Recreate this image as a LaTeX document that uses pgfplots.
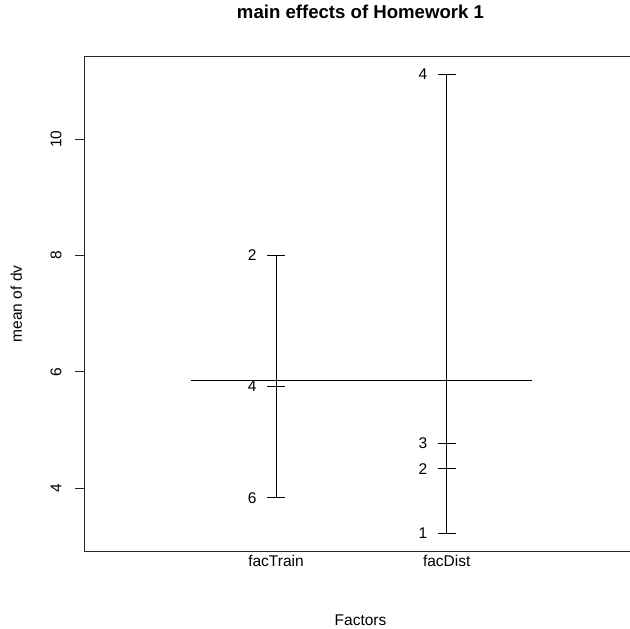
\documentclass[border=0pt]{standalone}
\usepackage{fontspec}
\setmainfont{Liberation Sans}
\usepackage{pgfplots}
\usepackage{pgfplotstable}
\pgfplotsset{compat=1.18}
\pgfplotstableread{
x y lab
1 8.000 2
1 5.746 4
1 3.837 6
}\facTrain
\pgfplotstableread{
x y lab
2 3.224 1
2 4.335 2
2 4.772 3
2 11.118 4
}\facDist
\begin{document}
\begin{tikzpicture}[font=\fontsize{15.5bp}{18bp}\selectfont]
\begin{axis}[
  scale only axis,
  width=553bp, height=495.7bp,
  xmin=-0.1248, xmax=3.115,
  ymin=2.908, ymax=11.432,
  axis line style={line width=0.8bp, black!85},
  tick align=outside,
  major tick length=8.5bp,
  ytick={4,6,8,10},
  ytick pos=left,
  ytick style={line width=0.8bp, black!85},
  yticklabel style={rotate=90, anchor=south, inner sep=0pt},
  yticklabel shift=13.8bp,
  xtick={1,2},
  xticklabels={facTrain,facDist},
  xtick style={draw=none},
  xticklabel style={anchor=base, inner sep=0pt},
  xticklabel shift=6.5bp,
  /pgf/number format/assume math mode=true,
  title={main effects of Homework 1},
  title style={at={(axis description cs:0.5,1.064)}, anchor=base, inner sep=0pt, font=\bfseries\fontsize{18.6bp}{22bp}\selectfont},
  xlabel={Factors},
  xlabel style={at={(axis description cs:0.5,-0.1493)}, anchor=base, inner sep=0pt},
  ylabel={mean of dv},
  ylabel style={at={(axis description cs:-0.1117,0.5)}, rotate=0, anchor=south, inner sep=0pt},
]
\addplot[black, line width=0.8bp] coordinates {(0.5,5.861) (2.5,5.861)};
\addplot[black, line width=0.8bp] coordinates {(1,3.837) (1,8.000)};
\addplot[black, line width=0.8bp] coordinates {(2,3.224) (2,11.118)};
\addplot[black, line width=0.8bp, only marks, mark=-, mark size=9bp,
  nodes near coords, point meta=explicit symbolic,
  every node near coord/.style={anchor=east, inner sep=0pt, xshift=-19bp, black}]
  table[x=x, y=y, meta=lab] {\facTrain};
\addplot[black, line width=0.8bp, only marks, mark=-, mark size=9bp,
  nodes near coords, point meta=explicit symbolic,
  every node near coord/.style={anchor=east, inner sep=0pt, xshift=-19bp, black}]
  table[x=x, y=y, meta=lab] {\facDist};
\coordinate (bl) at (rel axis cs:0,0);
\coordinate (tr) at (rel axis cs:1,1);
\end{axis}
\pgfresetboundingbox
\path ([shift={(-84bp,-77.3bp)}]bl) rectangle ([shift={(-7bp,56bp)}]tr);
\end{tikzpicture}
\end{document}
